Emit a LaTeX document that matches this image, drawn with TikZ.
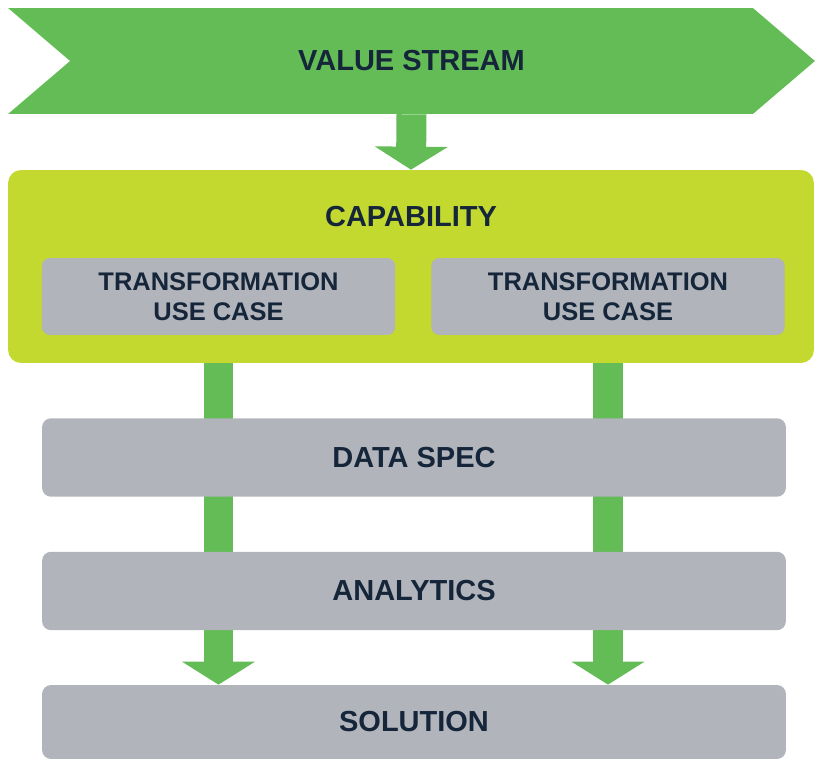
\documentclass[tikz,border=0pt]{standalone}
\usepackage{fontspec}
\setmainfont{Liberation Sans}
\usetikzlibrary{shapes.symbols,arrows.meta,positioning,backgrounds}
\definecolor{streamgreen}{HTML}{63BC55}
\definecolor{caplime}{HTML}{C4D92F}
\definecolor{boxgray}{HTML}{B1B4BA}
\definecolor{inkblue}{HTML}{15253A}

\begin{document}
\begin{tikzpicture}[
    x=0.02cm, y=0.02cm,
    bigtext/.style={font=\fontsize{16.5}{19.8}\selectfont\bfseries, text=inkblue},
    graybox/.style={rectangle, rounded corners=0.18cm, fill=boxgray, minimum width=14.88cm, minimum height=1.57cm, bigtext},
    usebox/.style={rectangle, rounded corners=0.16cm, fill=boxgray, minimum width=7.07cm, minimum height=1.54cm, align=center, font=\fontsize{14.5}{16.8}\selectfont\bfseries, text=inkblue},
    flowarrow/.style={draw=streamgreen, line width=0.6cm, -{Triangle[width=1.44cm, length=0.46cm]}}
]
\useasboundingbox (0,0) rectangle (815,-760);
% Value stream banner
\node[signal, signal to=east, signal from=west, signal pointer angle=81, fill=streamgreen, minimum width=16.14cm, minimum height=2.12cm, inner sep=0pt, bigtext] (stream) at (411.5,-61) {VALUE STREAM};

% Capability block
\node[rectangle, rounded corners=0.26cm, fill=caplime, minimum width=16.12cm, minimum height=3.86cm] (capability) at (411,-266.5) {};
\node[bigtext] (captitle) at (411,-217) {CAPABILITY};
\node[usebox] (useleft) at (218.5,-296.5) {TRANSFORMATION\\USE CASE};
\node[usebox] (useright) at (608,-296.5) {TRANSFORMATION\\USE CASE};

% Lower layers
\node[graybox] (dataspec) at (414,-457.5) {DATA SPEC};
\node[graybox] (analytics) at (414,-591) {ANALYTICS};
\node[graybox, minimum height=1.48cm] (solution) at (414,-722) {SOLUTION};

% Arrows
\draw[flowarrow] (stream.south) -- (capability.north);
\begin{scope}[on background layer]
\draw[flowarrow] (useleft.south) -- (useleft.south |- solution.north);
\draw[flowarrow] (useright.south) -- (useright.south |- solution.north);
\end{scope}
\end{tikzpicture}
\end{document}
